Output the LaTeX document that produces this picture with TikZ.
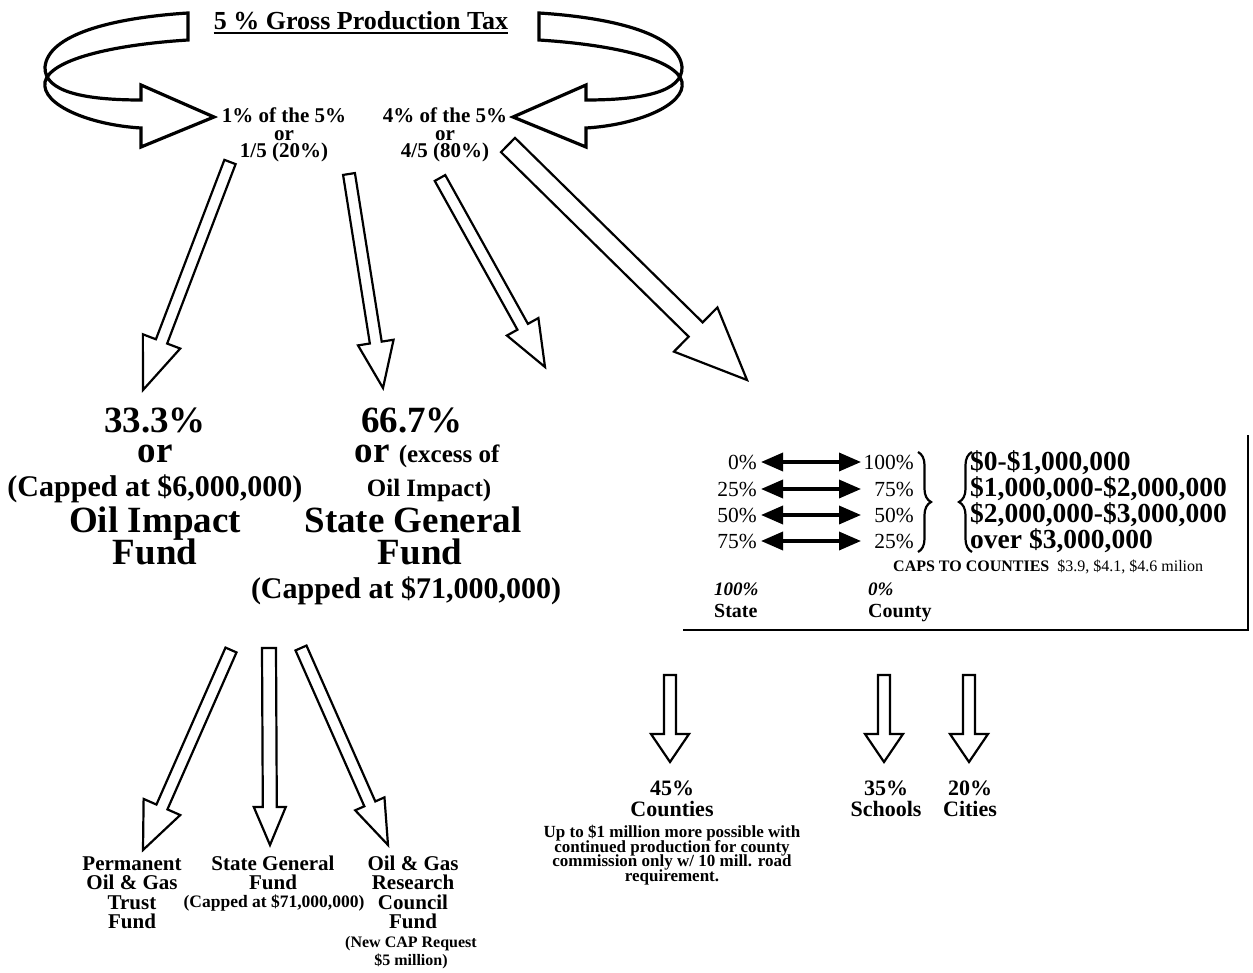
\documentclass[tikz,border=0pt]{standalone}
\usepackage{fontspec}
\setmainfont{Liberation Serif}
\usetikzlibrary{calc,arrows.meta,decorations.pathreplacing}
\setlength{\lineskiplimit}{-100pt}

% hollow block arrow: tail, tip, half shaft width, half head width, head length
\newcommand{\blockarrow}[5]{%
  \coordinate (bh) at ($(#2)!#5!(#1)$);
  \draw[blockline] ($(#1)!#3!90:(#2)$) -- ($(bh)!#3!90:(#2)$) -- ($(bh)!#4!90:(#2)$)
    -- (#2) -- ($(bh)!#4!-90:(#2)$) -- ($(bh)!#3!-90:(#2)$) -- ($(#1)!#3!-90:(#2)$) -- cycle;
}

\tikzset{
  blockline/.style={draw=black, line width=2.2pt, line join=miter, fill=white},
  ribbon/.style={draw=black, line width=3.2pt, line join=miter, fill=white},
  txt/.style={inner sep=0pt, anchor=base, align=center},
  bigtxt/.style={txt, font=\fontsize{37}{37}\selectfont\bfseries},
  midtxt/.style={txt, font=\fontsize{30}{30}\selectfont\bfseries},
  sharetxt/.style={txt, font=\fontsize{21}{17.5}\selectfont\bfseries},
  pcttxt/.style={inner sep=0pt, anchor=base east, font=\fontsize{21.5}{21.5}\selectfont},
  smalltxt/.style={txt, font=\fontsize{21}{19.5}\selectfont\bfseries},
  dbl/.style={{Triangle[length=22pt,width=18pt]}-{Triangle[length=22pt,width=18pt]}, line width=3.5pt},
  bracestyle/.style={decorate, decoration={brace, amplitude=13pt}, line width=2.2pt},
  boxline/.style={line width=1.6pt}
}

\begin{document}
\begin{tikzpicture}[x=1pt,y=-1pt]
\fill[white] (0,0) rectangle (1253,973);
\useasboundingbox (0,0) rectangle (1253,973);

% ---- title and the two shares (multi-line nodes sit on their last baseline) ----
\node[txt, font=\fontsize{26}{26}\selectfont\bfseries] (title) at (361,30) {5 \% Gross Production Tax};
\draw[line width=1.6pt] ([yshift=-3pt]title.base west) -- ([yshift=-3pt]title.base east);

\node[sharetxt] (s1) at (284,158) {1\% of the 5\%\\or\\1/5 (20\%)};
\node[sharetxt] (s2) at (445,158) {4\% of the 5\%\\or\\4/5 (80\%)};

% curved ribbons from the title down to the shares
\draw[ribbon] (188,13) .. controls (110,18) and (48,35) .. (45,67)
  .. controls (44,92) and (85,100) .. (141,100) -- (141,85) -- (214,117) -- (141,147) -- (141,128)
  .. controls (90,125) and (41,105) .. (45,82) .. controls (50,60) and (110,45) .. (188,40) -- cycle;
\draw[ribbon] (539,13) .. controls (617,18) and (679,35) .. (682,67)
  .. controls (683,92) and (642,100) .. (586,100) -- (586,85) -- (513,117) -- (586,147) -- (586,128)
  .. controls (637,125) and (686,105) .. (682,82) .. controls (677,60) and (617,45) .. (539,40) -- cycle;

% ---- arrows out of the shares ----
\coordinate (a1t) at (230,162); \coordinate (a1h) at (143,390);
\coordinate (a2t) at (349,174); \coordinate (a2h) at (383,388);
\coordinate (a3t) at (440,178); \coordinate (a3h) at (545,367);
\coordinate (a4t) at (508,145); \coordinate (a4h) at (747,380);
\blockarrow{a1t}{a1h}{6pt}{20pt}{52pt}
\blockarrow{a2t}{a2h}{6pt}{18pt}{46pt}
\blockarrow{a3t}{a3h}{6pt}{18pt}{46pt}
\blockarrow{a4t}{a4h}{10pt}{31pt}{72pt}

% ---- Oil Impact Fund ----
\node[bigtxt] (o1) at (155,432) {33.3\%};
\node[bigtxt] (o2) at (155,462) {or};
\node[midtxt] (o3) at (155,496) {(Capped at \$6,000,000)};
\node[bigtxt] (o4) at (155,532) {Oil Impact};
\node[bigtxt] (o5) at (155,564) {Fund};

% ---- State General Fund ----
\node[bigtxt] (g1) at (412,432) {66.7\%};
\node[txt] (g2) at (427,462) {\fontsize{37}{37}\selectfont\bfseries or \fontsize{25}{25}\selectfont(excess of};
\node[txt, font=\fontsize{25}{25}\selectfont\bfseries] (g3) at (429,496) {Oil Impact)};
\node[bigtxt] (g4) at (413,532) {State General};
\node[bigtxt] (g5) at (420,564) {Fund};
\node[midtxt] (g6) at (406,598) {(Capped at \$71,000,000)};

% ---- state / county split table ----
\draw[boxline] (683,630) -- (1248,630) -- (1248,435);
\foreach \i/\a/\b/\y in {1/0/100/469, 2/25/75/496, 3/50/50/522, 4/75/25/548} {
  \node[pcttxt] (l\i) at (757,\y) {\a\%};
  \node[pcttxt] (r\i) at (914,\y) {\b\%};
  \coordinate (e\i) at (861,\y-7);
  \draw[dbl] (l\i.east |- e\i) ++(4pt,0) -- (e\i);
}
\coordinate (bra) at (918,452); \coordinate (brb) at (918,552);
\coordinate (brc) at (972,552); \coordinate (brd) at (972,452);
\draw[bracestyle] (bra) -- (brb);
\draw[bracestyle] (brc) -- (brd);
\node[inner sep=0pt, anchor=base west, align=left, font=\fontsize{27.5}{25.8}\selectfont\bfseries] (money) at (970,548)
  {\$0-\$1,000,000\\\$1,000,000-\$2,000,000\\\$2,000,000-\$3,000,000\\over \$3,000,000};
\node[inner sep=0pt, anchor=base west, font=\fontsize{16}{16}\selectfont] (caps) at (893,571)
  {\textbf{CAPS TO COUNTIES}\ \ \$3.9, \$4.1, \$4.6 milion};
\node[inner sep=0pt, anchor=base west, font=\fontsize{19}{19}\selectfont\bfseries\itshape] (st1) at (714,595) {100\%};
\node[inner sep=0pt, anchor=base west, font=\fontsize{20}{20}\selectfont\bfseries] (st2) at (714,617) {State};
\node[inner sep=0pt, anchor=base west, font=\fontsize{19}{19}\selectfont\bfseries\itshape] (ct1) at (868,595) {0\%};
\node[inner sep=0pt, anchor=base west, font=\fontsize{20}{20}\selectfont\bfseries] (ct2) at (868,617) {County};

% ---- county share split ----
\coordinate (c1t) at (670,675); \coordinate (c1h) at (670,762);
\coordinate (c2t) at (884,675); \coordinate (c2h) at (884,762);
\coordinate (c3t) at (969,675); \coordinate (c3h) at (969,762);
\blockarrow{c1t}{c1h}{6pt}{19pt}{28pt}
\blockarrow{c2t}{c2h}{6pt}{19pt}{28pt}
\blockarrow{c3t}{c3h}{6pt}{19pt}{28pt}
\node[txt, font=\fontsize{22}{21}\selectfont\bfseries] (cty) at (672,816) {45\%\\Counties};
\node[txt, font=\fontsize{22}{21}\selectfont\bfseries] (sch) at (886,816) {35\%\\Schools};
\node[txt, font=\fontsize{22}{21}\selectfont\bfseries] (cit) at (970,816) {20\%\\Cities};
\node[txt, font=\fontsize{17}{14.5}\selectfont\bfseries] (note) at (672,881)
  {Up to \$1 million more possible with\\continued production for county\\commission only w/ 10 mill. road\\requirement.};

% ---- Oil Impact Fund split ----
\coordinate (b1t) at (231,650); \coordinate (b1h) at (143,850);
\coordinate (b2t) at (269,648); \coordinate (b2h) at (270,845);
\coordinate (b3t) at (301,648); \coordinate (b3h) at (388,845);
\blockarrow{b1t}{b1h}{6pt}{20pt}{47pt}
\blockarrow{b2t}{b2h}{7pt}{16pt}{38pt}
\blockarrow{b3t}{b3h}{6pt}{16pt}{45pt}
\node[smalltxt] (p1) at (132,928.5) {Permanent\\Oil \& Gas\\Trust\\Fund};
\node[smalltxt] (p2) at (273,889.5) {State General\\Fund};
\node[txt, font=\fontsize{17.5}{17.5}\selectfont\bfseries] (p2b) at (274,907) {(Capped at \$71,000,000)};
\node[smalltxt] (p3) at (413,928.5) {Oil \& Gas\\Research\\Council\\Fund};
\node[txt, font=\fontsize{16}{18}\selectfont\bfseries] (p3b) at (411,965) {(New CAP Request\\\$5 million)};
\end{tikzpicture}
\end{document}
